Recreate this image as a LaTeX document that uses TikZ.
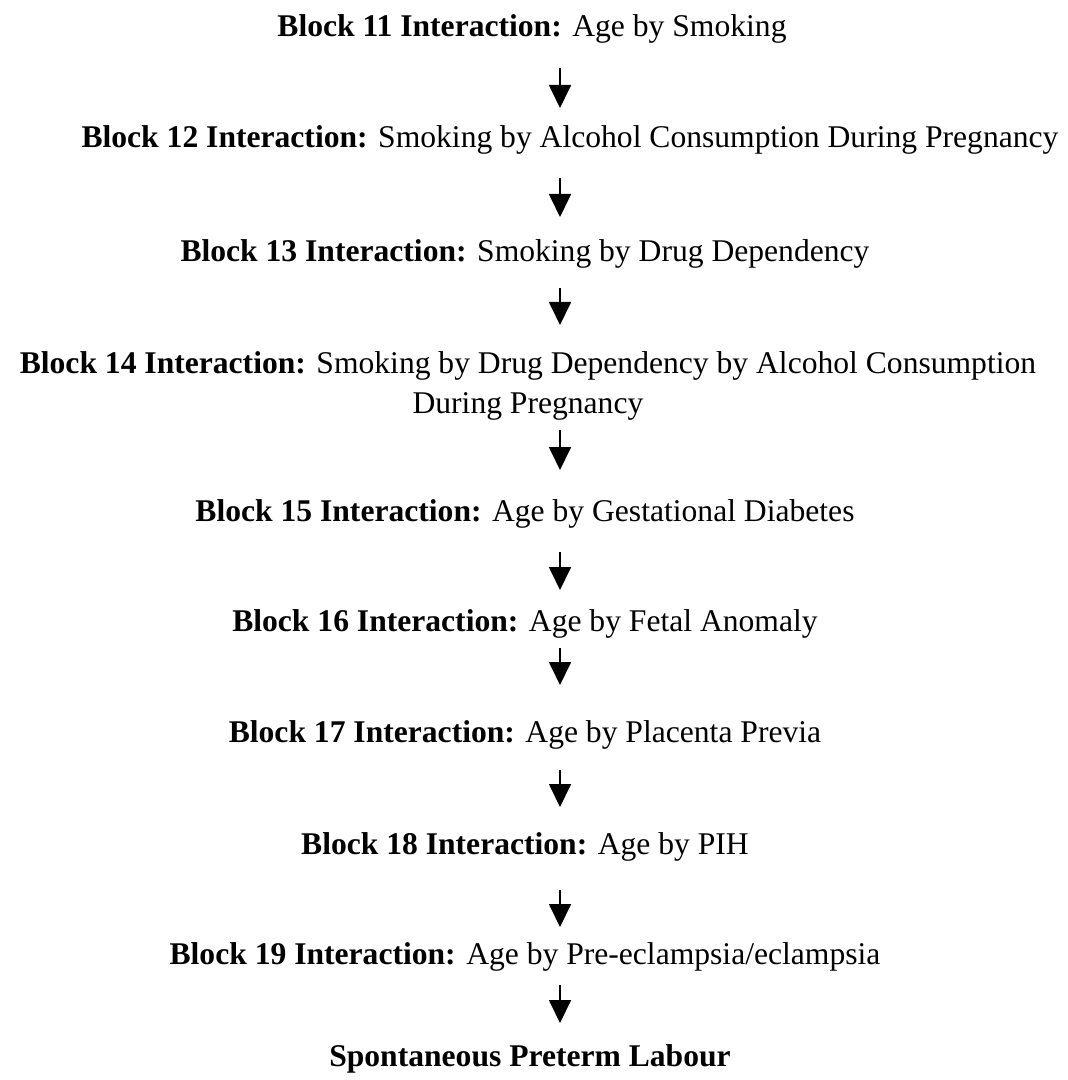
\documentclass[tikz,border=0pt]{standalone}
\usepackage{fontspec}
\setmainfont{Liberation Serif}
\usetikzlibrary{arrows.meta}

\begin{document}
\begin{tikzpicture} [x=0.5pt, y=-0.5pt,
  block/.style={inner sep=0pt, align=center, font=\fontsize{15.8}{20}\selectfont,
    text height=0.66em, text depth=0pt},
  flow/.style={-{Triangle[width=11pt, length=11.5pt]}, line width=0.9pt}]
\useasboundingbox (0,0) rectangle (1067,1080);

\coordinate (spine) at (560,0);

\node [block] (b11) at (532,30) {\textbf{Block 11 Interaction:} Age by Smoking};
\node [block] (b12) at (570,141) {\textbf{Block 12 Interaction:} Smoking by Alcohol Consumption During Pregnancy};
\node [block] (b13) at (525,255) {\textbf{Block 13 Interaction:} Smoking by Drug Dependency};
\node [block] (b14) at (528,407) {\textbf{Block 14 Interaction:} Smoking by Drug Dependency by Alcohol Consumption\\ During Pregnancy};
\node [block] (b15) at (525,515) {\textbf{Block 15 Interaction:} Age by Gestational Diabetes};
\node [block] (b16) at (525,625) {\textbf{Block 16 Interaction:} Age by Fetal Anomaly};
\node [block] (b17) at (525,736) {\textbf{Block 17 Interaction:} Age by Placenta Previa};
\node [block] (b18) at (525,848) {\textbf{Block 18 Interaction:} Age by PIH};
\node [block] (b19) at (525,958) {\textbf{Block 19 Interaction:} Age by Pre-eclampsia/eclampsia};
\node [block] (spl) at (530,1060) {\textbf{Spontaneous Preterm Labour}};

% arrows sit on the spine, not on the text centres
\draw [flow] ([yshift=-38*0.5pt]b11.center -| spine) -- ([yshift=33*0.5pt]b12.center -| spine);
\draw [flow] ([yshift=-37*0.5pt]b12.center -| spine) -- ([yshift=38*0.5pt]b13.center -| spine);
\draw [flow] ([yshift=-33*0.5pt]b13.center -| spine) -- ([yshift=82*0.5pt]b14.center -| spine);
\draw [flow] ([yshift=-23*0.5pt]b14.center -| spine) -- ([yshift=45*0.5pt]b15.center -| spine);
\draw [flow] ([yshift=-37*0.5pt]b15.center -| spine) -- ([yshift=35*0.5pt]b16.center -| spine);
\draw [flow] ([yshift=-23*0.5pt]b16.center -| spine) -- ([yshift=51*0.5pt]b17.center -| spine);
\draw [flow] ([yshift=-34*0.5pt]b17.center -| spine) -- ([yshift=41*0.5pt]b18.center -| spine);
\draw [flow] ([yshift=-42*0.5pt]b18.center -| spine) -- ([yshift=31*0.5pt]b19.center -| spine);
\draw [flow] ([yshift=-27*0.5pt]b19.center -| spine) -- ([yshift=37*0.5pt]spl.center -| spine);

\end{tikzpicture}
\end{document}
